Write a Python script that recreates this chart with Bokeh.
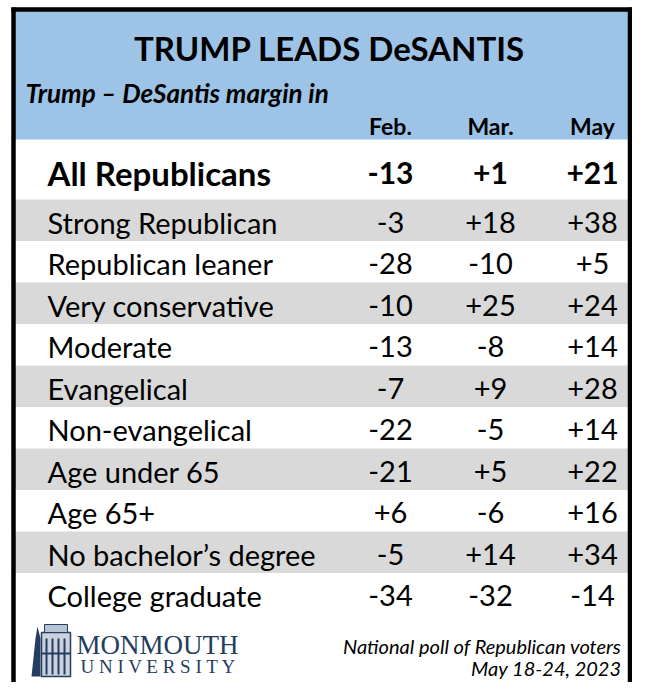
from bokeh.plotting import figure
from bokeh.models import Range1d
from bokeh.core.properties import value
from bokeh.embed import file_html
from bokeh.resources import INLINE

# ---------------- data ----------------
title = "TRUMP LEADS DeSANTIS"
subtitle = "Trump \u2013 DeSantis margin in"
months = ["Feb.", "Mar.", "May"]
total_label = "All Republicans"
total_values = [-13, 1, 21]
groups = ["Strong Republican", "Republican leaner", "Very conservative", "Moderate",
          "Evangelical", "Non-evangelical", "Age under 65", "Age 65+",
          "No bachelor\u2019s degree", "College graduate"]
feb = [-3, -28, -10, -13, -7, -22, -21, 6, -5, -34]
mar = [18, -10, 25, -8, 9, -5, 5, -6, 14, -32]
may = [38, 5, 24, 14, 28, 14, 22, 16, 34, -14]
source_line1 = "National poll of Republican voters"
source_line2 = "May 18-24, 2023"

def fmt(v):
    return f"+{v}" if v > 0 else f"{v}"

# ---------------- layout ----------------
FONT = "Lato"
BLUE = "#9dc3e6"
GRAY = "#d9d9d9"
NAVY = "#253d5e"
W, H = 632, 682

p = figure(width=W, height=H, output_backend="svg", toolbar_location=None,
           x_range=Range1d(0, W), y_range=Range1d(H, 0),
           min_border=0, outline_line_color=None, background_fill_color="white",
           border_fill_color="white")
p.axis.visible = False
p.grid.visible = False

col_x = [390, 490, 592]
label_x = 47
row0 = 199.0
pitch = 41.5
right_edge = W - 4

# header band
p.quad(left=[13], right=[right_edge], top=[9], bottom=[139], fill_color=BLUE, line_color=None)

# stripes
n = len(groups)
tops = [row0 + i * pitch for i in range(n)]
bots = [t + pitch for t in tops]
stripe_idx = [i for i in range(n) if i % 2 == 0]
p.quad(left=[13] * len(stripe_idx), right=[right_edge] * len(stripe_idx),
       top=[tops[i] for i in stripe_idx], bottom=[bots[i] for i in stripe_idx],
       fill_color=GRAY, line_color=None)

# frame
p.segment(x0=[13, W - 2.5, 11], y0=[7, 7, 9], x1=[13, W - 2.5, W], y1=[H, H, 9],
          line_color="black", line_width=4.5)

# title, subtitle, months
p.text(x=[329], y=[47], text=[title], text_font=value(FONT), text_font_style="bold",
       text_font_size="33px", text_align="center", text_baseline="middle", text_color="black")
p.text(x=[25], y=[92], text=[subtitle], text_font=value(FONT), text_font_style="bold italic",
       text_font_size="26px", text_align="left", text_baseline="middle", text_color="black")
p.text(x=col_x, y=[125] * 3, text=months, text_font=value(FONT), text_font_style="bold",
       text_font_size="23px", text_align="center", text_baseline="middle", text_color="black")

# total row
p.text(x=[label_x], y=[172], text=[total_label], text_font=value(FONT), text_font_style="bold",
       text_font_size="33px", text_align="left", text_baseline="middle", text_color="black")
p.text(x=col_x, y=[172] * 3, text=[fmt(v) for v in total_values], text_font=value(FONT),
       text_font_style="bold", text_font_size="30px", text_align="center",
       text_baseline="middle", text_color="black")

# group rows
ys = [t + pitch / 2 + 2 for t in tops]
p.text(x=[label_x] * n, y=ys, text=groups, text_font=value(FONT), text_font_size="29px",
       text_align="left", text_baseline="middle", text_color="black")
for cx, vals in zip(col_x, [feb, mar, may]):
    p.text(x=[cx] * n, y=ys, text=[fmt(v) for v in vals], text_font=value(FONT),
           text_font_size="29px", text_align="center", text_baseline="middle",
           text_color="black")

# source
p.text(x=[621, 621], y=[645, 667], text=[source_line1, source_line2], text_font=value(FONT),
       text_font_style="italic", text_font_size="20px", text_align="right",
       text_baseline="middle", text_color="black")

# logo
p.text(x=[76], y=[644], text=["MONMOUTH"], text_font=value("Liberation Serif"),
       text_font_size="27px", text_align="left", text_baseline="middle", text_color=NAVY)
p.text(x=[80], y=[666], text=["U N I V E R S I T Y"], text_font=value("Liberation Serif"),
       text_font_size="19px", text_align="left", text_baseline="middle", text_color=NAVY)
# building icon
p.patch(x=[31, 35, 37, 40, 40, 31], y=[676, 638, 626, 638, 676, 676], fill_color=NAVY,
        line_color=None)
p.quad(left=[41], right=[70], top=[632], bottom=[676], fill_color="#c9d2de", line_color=NAVY,
       line_width=1.5)
p.quad(left=[44], right=[67], top=[624], bottom=[632], fill_color="#b8c4d4", line_color=NAVY,
       line_width=1)
p.segment(x0=[46, 52, 58, 64, 41], y0=[638, 638, 638, 638, 653],
          x1=[46, 52, 58, 64, 70], y1=[674, 674, 674, 674, 653], line_color=NAVY, line_width=2)

open("out.html", "w").write(file_html(p, INLINE))
